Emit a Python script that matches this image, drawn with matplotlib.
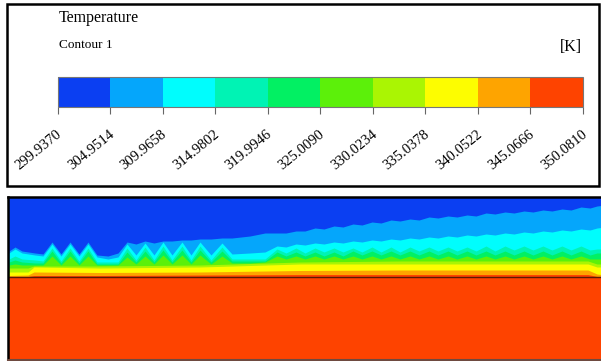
import matplotlib
matplotlib.use("Agg")
import matplotlib.pyplot as plt
from matplotlib.colors import ListedColormap, BoundaryNorm
from matplotlib.cm import ScalarMappable
from matplotlib.patches import Rectangle
import matplotlib.transforms as mtransforms

plt.rcParams['font.family'] = ['Liberation Serif', 'DejaVu Serif']

# contour levels [K] and band colours (coolest to hottest)
levels = [299.9370, 304.9514, 309.9658, 314.9802, 319.9946, 325.0090,
          330.0234, 335.0378, 340.0522, 345.0666, 350.0810]
band_colors = ['#0b3ff2', '#05a6fb', '#00fdfd', '#00f3b4', '#02f063',
               '#5cf00a', '#aaf503', '#fdfd00', '#fea400', '#fe4300']

# isotherm heights above the wall (px of the picture)
# toothed isotherms share one set of x vertices
xt = [9, 15, 22, 35, 43, 52, 61, 70, 79, 88, 97, 108, 118, 127, 136, 145, 154,
      163, 172, 182, 191, 200, 211, 222, 232, 250, 265,
      277, 286, 296, 305, 315, 324, 334, 343, 353, 362, 372, 381, 391, 400,
      410, 419, 429, 438, 448, 457, 467, 476, 486, 495, 505, 514, 524, 533,
      543, 552, 562, 571, 581, 590, 597, 605]
h_305 = [26, 30, 26, 24, 23, 35, 23, 35, 23, 35, 22, 21, 24, 35, 33, 36, 34,
         36, 36, 37, 37, 38, 38, 39, 39, 41, 44,
         44, 44, 46, 46, 49, 48, 51, 50, 53, 52, 55, 54, 57, 56,
         58, 57, 60, 59, 61, 60, 62, 61, 64, 63, 65, 64, 66, 65,
         67, 66, 68, 67, 70, 69, 71, 72]
h_310 = [24, 28, 24, 22, 21, 33, 21, 33, 21, 33, 20, 18, 20, 33, 22, 34, 22,
         35, 22, 35, 22, 35, 22, 34, 23, 24, 25,
         31, 30, 33, 32, 34, 33, 35, 34, 36, 35, 37, 36, 38, 37,
         39, 38, 40, 39, 41, 40, 42, 41, 43, 42, 44, 43, 45, 44,
         46, 45, 47, 46, 48, 47, 49, 50]
h_315 = [18, 21, 18, 17, 16, 29, 16, 29, 16, 29, 15, 15, 15, 29, 17, 30, 17,
         31, 17, 31, 17, 31, 17, 30, 18, 18, 18,
         28, 24, 29, 24, 29, 25, 29, 25, 29, 25, 30, 25, 30, 25,
         30, 26, 30, 26, 30, 26, 30, 26, 31, 26, 31, 27, 31, 27,
         31, 27, 31, 27, 31, 27, 28, 28]
h_320 = [15, 17, 15, 14, 14, 26, 14, 26, 14, 26, 13, 13, 13, 25, 15, 26, 15,
         27, 15, 27, 15, 27, 15, 26, 16, 16, 16,
         25, 21, 25, 21, 25, 21, 25, 21, 26, 22, 26, 22, 26, 22,
         26, 22, 26, 22, 26, 22, 26, 22, 26, 22, 26, 22, 26, 22,
         26, 22, 26, 22, 26, 22, 24, 24]
h_325 = [12, 13, 12, 12, 12, 21, 12, 21, 12, 21, 12, 12, 12, 20, 13, 21, 13,
         22, 13, 22, 13, 22, 13, 21, 14, 14, 15,
         21, 18, 21, 18, 21, 18, 21, 18, 21, 18, 21, 18, 21, 18,
         21, 18, 21, 18, 21, 18, 21, 18, 21, 18, 21, 18, 21, 18,
         21, 18, 21, 18, 21, 18, 18, 18]
# smooth isotherms close to the wall
xs = [9, 28, 34, 100, 200, 300, 400, 500, 588, 597, 605]
h_330 = [9, 9, 11, 11, 12, 15, 16, 16, 16, 13, 13]
h_335 = [5, 5, 10, 9, 10, 13, 13, 13, 13, 10, 10]
h_340 = [1.5, 2, 5, 4.5, 5, 6.5, 7, 7, 7, 3, 2]
h_345 = [0.5, 0.5, 1.5, 1.5, 2, 2.5, 2.5, 2.5, 2.5, 0.5, 0.5]

fig = plt.figure(figsize=(6.01, 3.61), dpi=100)

# ---- legend box ----
fig.patches.append(Rectangle((7/601, 1-186/361), 592/601, 182/361,
                             transform=fig.transFigure, fill=False,
                             edgecolor='black', linewidth=1.8))
fig.text(59/601, 1-18/361, 'Temperature', fontsize=11.5, va='center', ha='left')
fig.text(59/601, 1-45/361, 'Contour 1', fontsize=9.5, va='center', ha='left')
fig.text(582/601, 1-47/361, '[K]', fontsize=11.5, va='center', ha='right')

cax = fig.add_axes([57.5/601, 1-107/361, 525/601, 30/361])
cmap = ListedColormap(band_colors)
norm = BoundaryNorm(levels, cmap.N)
cbar = fig.colorbar(ScalarMappable(norm=norm, cmap=cmap), cax=cax,
                    orientation='horizontal', ticks=levels)
cbar.outline.set_edgecolor('#777777')
cbar.outline.set_linewidth(0.8)
cax.tick_params(axis='x', length=5, width=0.8, color='#666666',
                labelbottom=False)
off = mtransforms.ScaledTranslation(-1/72, -15/72, fig.dpi_scale_trans)
trans = mtransforms.blended_transform_factory(cax.transData, cax.transAxes) + off
for lv in levels:
    cax.text(lv, 0, '%.4f' % lv, transform=trans, rotation=39,
             rotation_mode='anchor', ha='right', va='top', fontsize=10.5)

# ---- contour panel ----
ax = fig.add_axes([8/601, 1/361, 597/601, 163/361])
ax.set_facecolor(band_colors[0])
ax.set_xlim(8, 605)
ax.set_ylim(-83, 80)
bounds = [(xt, h_305), (xt, h_310), (xt, h_315), (xt, h_320), (xt, h_325),
          (xs, h_330), (xs, h_335), (xs, h_340), (xs, h_345)]
for (xx, hh), c in zip(bounds, band_colors[1:]):
    ax.fill_between(xx, 0, hh, color=c, linewidth=0, antialiased=True)
ax.axhspan(-83, 0, color=band_colors[-1], linewidth=0)
ax.axhline(0, color='#5a1a05', linewidth=1.0)
ax.set_xticks([])
ax.set_yticks([])
for s in ['left', 'top']:
    ax.spines[s].set_linewidth(1.8)
    ax.spines[s].set_color('black')
ax.spines['right'].set_visible(False)
ax.spines['bottom'].set_color('#6e4a40')
ax.spines['bottom'].set_linewidth(1.5)

fig.savefig('out.png', dpi=100)
